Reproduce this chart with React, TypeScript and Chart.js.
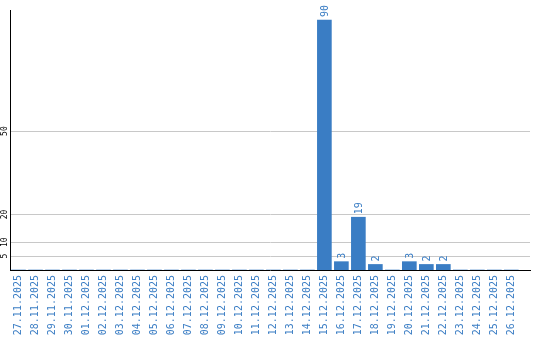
import React, { useEffect, useRef } from "react";
import { Chart, registerables } from "chart.js";

Chart.register(...registerables);

const categories = [
  "27.11.2025", "28.11.2025", "29.11.2025", "30.11.2025", "01.12.2025",
  "02.12.2025", "03.12.2025", "04.12.2025", "05.12.2025", "06.12.2025",
  "07.12.2025", "08.12.2025", "09.12.2025", "10.12.2025", "11.12.2025",
  "12.12.2025", "13.12.2025", "14.12.2025", "15.12.2025", "16.12.2025",
  "17.12.2025", "18.12.2025", "19.12.2025", "20.12.2025", "21.12.2025",
  "22.12.2025", "23.12.2025", "24.12.2025", "25.12.2025", "26.12.2025",
];
const values = [
  0, 0, 0, 0, 0, 0, 0, 0, 0, 0,
  0, 0, 0, 0, 0, 0, 0, 0, 90, 3,
  19, 2, 0, 3, 2, 2, 0, 0, 0, 0,
];
const yTicks = [5, 10, 20, 50];

const BLUE = "#3a7dc4";
const MONO = "'DejaVu Sans Mono', 'Liberation Mono', monospace";

export default function App() {
  const ref = useRef<HTMLCanvasElement | null>(null);
  useEffect(() => {
    if (!ref.current) return;
    const labelsPlugin = {
      id: "customLabels",
      afterDatasetsDraw(chart: any) {
        const ctx = chart.ctx;
        const meta = chart.getDatasetMeta(0);
        ctx.save();
        ctx.fillStyle = BLUE;
        ctx.font = `10px ${MONO}`;
        ctx.textAlign = "left";
        ctx.textBaseline = "middle";
        meta.data.forEach((bar: any, i: number) => {
          const v = values[i];
          if (!v) return;
          ctx.save();
          ctx.translate(bar.x + 1, bar.y - 3);
          ctx.rotate(-Math.PI / 2);
          ctx.fillText(String(v), 0, 0);
          ctx.restore();
        });
        const ys = chart.scales.y;
        ctx.fillStyle = "#000";
        ctx.font = `8px ${MONO}`;
        ctx.textAlign = "center";
        yTicks.forEach((t) => {
          const py = ys.getPixelForValue(t);
          ctx.save();
          ctx.translate(4.5, py);
          ctx.rotate(-Math.PI / 2);
          ctx.fillText(String(t), 0, 0);
          ctx.restore();
        });
        ctx.restore();
      },
    };
    const chart = new Chart(ref.current, {
      type: "bar",
      data: {
        datasets: [
          {
            data: values.map((v, i) => ({ x: i, y: v })),
            backgroundColor: BLUE,
            barThickness: 14,
          },
        ],
      },
      options: {
        animation: false,
        responsive: false,
        maintainAspectRatio: false,
        layout: { padding: { top: 10, right: 10, left: 0, bottom: 0 } },
        plugins: { legend: { display: false }, tooltip: { enabled: false } },
        scales: {
          x: {
            type: "linear",
            min: -0.5,
            max: 30.1,
            offset: false,
            afterBuildTicks: (scale: any) => {
              scale.ticks = categories.map((_, i) => ({ value: i }));
            },
            afterFit: (scale: any) => {
              scale.height = 70;
            },
            grid: { display: false, drawTicks: false },
            border: { display: true, color: "#000", width: 1 },
            ticks: {
              autoSkip: false,
              minRotation: 90,
              maxRotation: 90,
              padding: 5,
              color: BLUE,
              font: { family: MONO, size: 10 },
              callback: (v: any) => categories[v] ?? "",
            },
          },
          y: {
            min: 0,
            max: 93.6,
            afterBuildTicks: (scale: any) => {
              scale.ticks = yTicks.map((v) => ({ value: v }));
            },
            afterFit: (scale: any) => {
              scale.width = 10;
            },
            grid: { color: "#c8c8c8", drawTicks: false, lineWidth: 1 },
            border: { display: true, color: "#000", width: 1 },
            ticks: { display: false },
          },
        },
      },
      plugins: [labelsPlugin],
    } as any);
    return () => chart.destroy();
  }, []);
  return (
    <div style={{ position: "fixed", left: 0, top: 0, width: 540, height: 340, background: "#fff" }}>
      <canvas ref={ref} width={540} height={340} style={{ width: 540, height: 340 }} />
    </div>
  );
}
